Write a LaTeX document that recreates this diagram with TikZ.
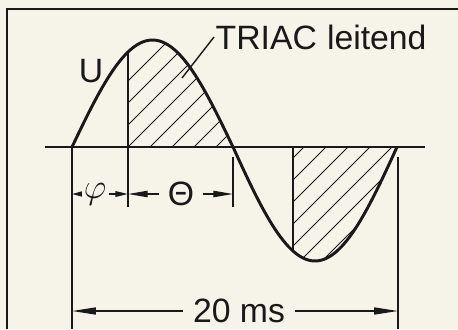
\documentclass[tikz,border=0pt]{standalone}
\usepackage{fontspec}
\setmainfont{Liberation Sans}
\usepackage{tikz}
\usetikzlibrary{arrows.meta}
\definecolor{paper}{RGB}{246,243,233}
\definecolor{ink}{RGB}{25,25,25}
\tikzset{
 lbl/.style={font=\fontsize{24}{28}\selectfont,inner sep=2pt,text=ink},
 dim/.style={-{Triangle[length=14pt,width=4.5pt]},line width=1pt,draw=ink},
 hatch/.style={line width=0.7pt,draw=ink},
 wave/.style={line width=2.1pt,draw=ink,line join=round},
 guide/.style={line width=1.2pt,draw=ink}
}
\begin{document}
\begin{tikzpicture}[x=0.025cm,y=-0.025cm]
\fill[paper](0,0)rectangle(458,329);
\useasboundingbox(0,0)rectangle(458,329);
% frame
\draw[line width=1.4pt,ink](7,329)--(7,9)--(458,9);
% hatched parts
\begin{scope}
\clip(128,147)--plot[domain=62.6:180,samples=40]({72+\x/180*161},{147-107*sin(\x)})--cycle;
\foreach \c in {62,84,...,480}\draw[hatch](\c-120,267)--(\c+120,27);
\end{scope}
\begin{scope}
\clip(293,147)--plot[domain=245.85:360,samples=40]({233+(\x-180)/180*164},{147-114*sin(\x)})--cycle;
\foreach \c in {62,84,...,520}\draw[hatch](\c-120,267)--(\c+120,27);
\end{scope}
% axis and wave
\draw[line width=1.6pt,ink](45,147)--(425,147);
\draw[wave]plot[domain=0:180,samples=60]({72+\x/180*161},{147-107*sin(\x)})
 --plot[domain=180:360,samples=60]({233+(\x-180)/180*164},{147-114*sin(\x)});
% guides
\coordinate(t0)at(72,147);
\coordinate(t1)at(128,52);
\coordinate(t2)at(233,157);
\coordinate(t3)at(398,157);
\coordinate(h2)at(293,147);
\draw[guide](t0)--(72,329);
\draw[guide](t1)--(128,207);
\draw[guide](t2)--(233,207);
\draw[guide](t3)--(398,329);
\draw[guide](h2)--(293,251);
% labels
\node[lbl](U)at(91,71){U};
\node[lbl,anchor=west,inner sep=1pt](triac)at(214,37){TRIAC\hspace{0.3em}leitend};
\coordinate(lead)at(182,78);
\draw[line width=1pt,ink](lead)--(triac.west);
% dimensions
\node[lbl](phi)at(95,194){$\varphi$};
\draw[dim,-{Triangle[length=7pt,width=3.5pt]}](phi)--(72,194);
\draw[dim,-{Triangle[length=9pt,width=4pt]}](phi)--(128,194);
\node[lbl,inner xsep=6pt](theta)at(181,194){Θ};
\draw[dim](theta)--(128,194);
\draw[dim](theta)--(233,194);
\node[lbl,inner xsep=7pt](per)at(239,311){20 ms};
\draw[dim,-{Triangle[length=17pt,width=5pt]}](per)--(72,311);
\draw[dim,-{Triangle[length=17pt,width=5pt]}](per)--(398,311);
\end{tikzpicture}
\end{document}
